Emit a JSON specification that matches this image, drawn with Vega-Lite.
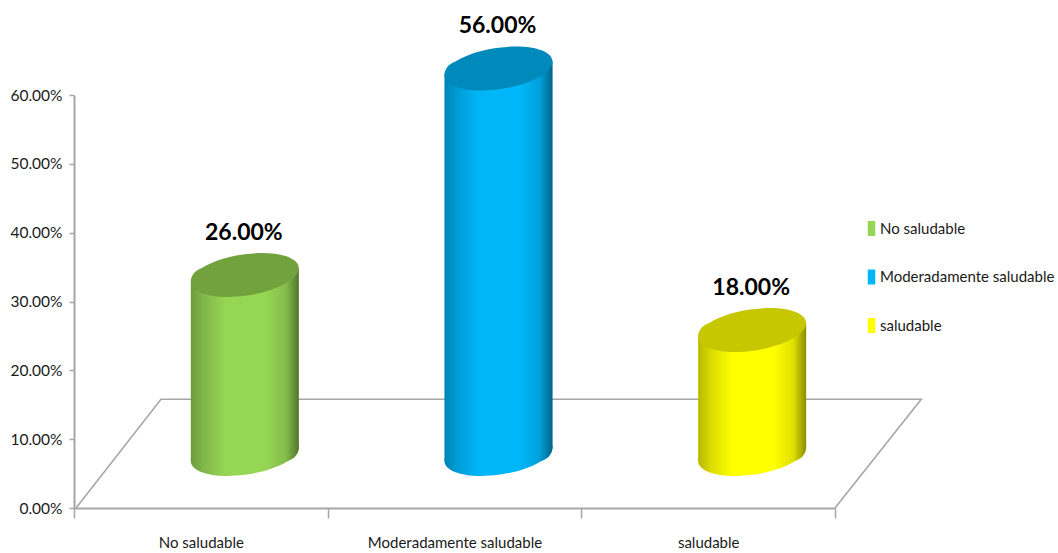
{
  "$schema": "https://vega.github.io/schema/vega-lite/v6.json",
  "autosize": "none",
  "width": 761,
  "height": 413,
  "padding": {"left": 74, "top": 95, "right": 223, "bottom": 45},
  "background": "white",
  "config": {"view": {"stroke": null}},
  "datasets": {
    "shares": [
      {"category": "No saludable", "share": 0.26},
      {"category": "Moderadamente saludable", "share": 0.56},
      {"category": "saludable", "share": 0.18}
    ],
    "floor": [
      {"corner": 1, "along": 0.008, "height": 0},
      {"corner": 2, "along": 0.343, "height": 0.158},
      {"corner": 3, "along": 3.34, "height": 0.158},
      {"corner": 4, "along": 3.0, "height": 0}
    ]
  },
  "encoding": {
    "x": {
      "field": "category",
      "type": "nominal",
      "sort": null,
      "axis": null,
      "scale": {"domain": ["No saludable", "Moderadamente saludable", "saludable"], "paddingInner": 0, "paddingOuter": 0}
    },
    "y": {
      "field": "share",
      "type": "quantitative",
      "stack": null,
      "axis": null,
      "scale": {"domain": [-0.0785, 0.5215], "nice": false, "zero": false}
    }
  },
  "layer": [
    {
      "data": {"name": "floor"},
      "mark": {"type": "line", "color": "#A6A6A6", "strokeWidth": 1.6, "clip": false},
      "encoding": {
        "x": {"field": "along", "type": "quantitative", "axis": null, "scale": {"domain": [0, 3], "nice": false, "zero": false}},
        "y": {
          "field": "height",
          "type": "quantitative",
          "stack": null,
          "scale": {"domain": [0, 0.6], "nice": false, "zero": false},
          "axis": {
            "orient": "left", "title": null, "format": ".2%", "values": [0, 0.1, 0.2, 0.3, 0.4, 0.5, 0.6],
            "grid": false, "domainColor": "#A6A6A6", "domainWidth": 2, "tickColor": "#A6A6A6", "tickWidth": 1.5, "tickSize": 5,
            "labelFont": "Lato", "labelFontSize": 15.5, "labelColor": "#1a1a1a", "labelPadding": 7
          }
        },
        "order": {"field": "corner", "type": "quantitative"}
      }
    },
    {
      "data": {"name": "shares"},
      "mark": {"type": "point", "filled": true, "opacity": 1, "size": 11664, "xOffset": 44,
        "shape": "M1,-0.13 C1,0.0832 0.5523,0.3142 0,0.386 C-0.5523,0.4578 -1,0.3432 -1,0.13 C-1,-0.0832 -0.5523,-0.3142 0,-0.386 C0.5523,-0.4578 1,-0.3432 1,-0.13 Z"},
      "encoding": {
        "y": {"datum": 0, "type": "quantitative", "axis": null, "scale": {"domain": [-0.0785, 0.5215], "nice": false, "zero": false}},
        "color": {"field": "category", "type": "nominal", "legend": null,
          "scale": {"domain": ["No saludable", "Moderadamente saludable", "saludable"], "range": ["#96D655", "#00B6F8", "#FFFF00"]}}
      }
    },
    {
      "data": {"name": "shares"},
      "mark": {"type": "point", "filled": true, "opacity": 1, "size": 11664, "xOffset": 44,
        "shape": "M1,-0.13 C1,0.0832 0.5523,0.3142 0,0.386 C-0.5523,0.4578 -1,0.3432 -1,0.13 C-1,-0.0832 -0.5523,-0.3142 0,-0.386 C0.5523,-0.4578 1,-0.3432 1,-0.13 Z",
        "fill": {"gradient": "linear", "x1": 0, "y1": 0, "x2": 1, "y2": 0, "stops": [
          {"offset": 0, "color": "rgba(0,0,0,0.28)"},
          {"offset": 0.12, "color": "rgba(0,0,0,0.14)"},
          {"offset": 0.32, "color": "rgba(0,0,0,0)"},
          {"offset": 0.7, "color": "rgba(0,0,0,0)"},
          {"offset": 0.88, "color": "rgba(0,0,0,0.12)"},
          {"offset": 1, "color": "rgba(0,0,0,0.45)"}
        ]}},
      "encoding": {
        "y": {"datum": 0, "type": "quantitative", "axis": null, "scale": {"domain": [-0.0785, 0.5215], "nice": false, "zero": false}}
      }
    },
    {
      "data": {"name": "shares"},
      "mark": {"type": "bar", "size": 108, "xOffset": 44, "cornerRadiusTopLeft": 14, "cornerRadiusBottomRight": 14},
      "encoding": {
        "x": {
          "field": "category", "type": "nominal", "sort": null,
          "scale": {"domain": ["No saludable", "Moderadamente saludable", "saludable"], "paddingInner": 0, "paddingOuter": 0},
          "axis": {
            "orient": "bottom", "title": null, "labelAngle": 0, "tickBand": "extent", "tickSize": 10, "tickColor": "#A6A6A6", "tickWidth": 1.5,
            "domainColor": "#A6A6A6", "domainWidth": 2, "labelFont": "Lato", "labelFontSize": 15, "labelColor": "#1a1a1a", "labelPadding": 17, "labelLimit": 300
          }
        },
        "y": {"field": "share", "type": "quantitative", "stack": null, "axis": null, "scale": {"domain": [-0.0886, 0.5114], "nice": false, "zero": false}},
        "y2": {"datum": -0.0203},
        "color": {"field": "category", "type": "nominal",
          "scale": {"domain": ["No saludable", "Moderadamente saludable", "saludable"], "range": ["#96D655", "#00B6F8", "#FFFF00"]},
          "legend": {
            "orient": "none", "legendX": 790, "legendY": 126, "title": null,
            "symbolType": "M-0.5,-1 H0.5 V1 H-0.5 Z", "symbolSize": 225, "symbolStrokeWidth": 0,
            "labelFont": "Lato", "labelFontSize": 15, "labelColor": "#1a1a1a", "labelOffset": 1, "rowPadding": 32.5, "labelLimit": 300
          }
        }
      }
    },
    {
      "data": {"name": "shares"},
      "mark": {"type": "bar", "size": 108, "xOffset": 44, "cornerRadiusTopLeft": 14, "cornerRadiusBottomRight": 14,
        "fill": {"gradient": "linear", "x1": 0, "y1": 0, "x2": 1, "y2": 0, "stops": [
          {"offset": 0, "color": "rgba(0,0,0,0.28)"},
          {"offset": 0.12, "color": "rgba(0,0,0,0.14)"},
          {"offset": 0.32, "color": "rgba(0,0,0,0)"},
          {"offset": 0.7, "color": "rgba(0,0,0,0)"},
          {"offset": 0.88, "color": "rgba(0,0,0,0.12)"},
          {"offset": 1, "color": "rgba(0,0,0,0.45)"}
        ]}},
      "encoding": {
        "y": {"field": "share", "type": "quantitative", "stack": null, "axis": null, "scale": {"domain": [-0.0886, 0.5114], "nice": false, "zero": false}},
        "y2": {"datum": -0.0203}
      }
    },
    {
      "data": {"name": "shares"},
      "mark": {"type": "point", "filled": true, "opacity": 1, "size": 11664, "xOffset": 44,
        "shape": "M1,-0.13 C1,0.0832 0.5523,0.3142 0,0.386 C-0.5523,0.4578 -1,0.3432 -1,0.13 C-1,-0.0832 -0.5523,-0.3142 0,-0.386 C0.5523,-0.4578 1,-0.3432 1,-0.13 Z"},
      "encoding": {
        "color": {"field": "category", "type": "nominal", "legend": null,
          "scale": {"domain": ["No saludable", "Moderadamente saludable", "saludable"], "range": ["#72A23E", "#0089BB", "#C7C700"]}}
      }
    },
    {
      "data": {"name": "shares"},
      "mark": {"type": "text", "font": "Lato", "fontWeight": "bold", "fontSize": 23, "color": "black", "baseline": "middle", "dy": -42, "dx": 43},
      "encoding": {
        "text": {"field": "share", "type": "quantitative", "format": ".2%"}
      }
    }
  ],
  "resolve": {
    "scale": {"x": "independent", "y": "independent", "color": "independent"}
  }
}
